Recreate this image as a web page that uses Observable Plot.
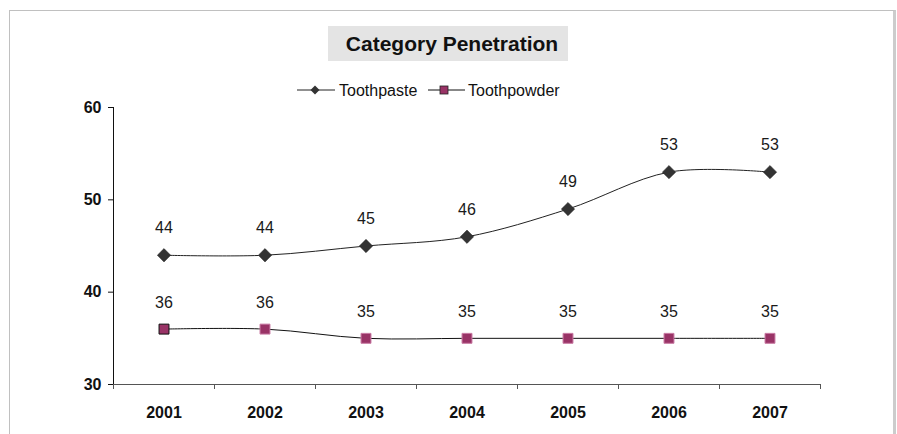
<!DOCTYPE html>
<html>
<head>
<meta charset="utf-8">
<script src="https://cdn.jsdelivr.net/npm/d3@7"></script>
<script src="https://cdn.jsdelivr.net/npm/@observablehq/plot@0.6"></script>
<style>
  html, body { margin: 0; padding: 0; background: #fff; }
  #wrap { position: relative; width: 897px; height: 434px; overflow: hidden; font-family: "Liberation Sans", Arial, sans-serif; }
  #frame { position: absolute; left: 9px; top: 10px; width: 887px; height: 440px; border: 1px solid #c0c0c0; border-right: 3px solid #cccccc; box-sizing: border-box; }
  #title { position: absolute; left: 328px; top: 26px; width: 240px; height: 35px; background: #e4e4e4; font-weight: bold; font-size: 21px; line-height: 35px; text-align: center; padding-left: 8px; box-sizing: border-box; color: #111; }
  #legend { position: absolute; left: 296px; top: 79px; height: 22px; }
  #chart { position: absolute; left: 0; top: 0; }
</style>
</head>
<body>
<div id="wrap">
  <div id="frame"></div>
  <div id="chart"></div>
  <div id="title">Category Penetration</div>
  <svg id="legend" width="300" height="22"></svg>
</div>
<script>
const years = ["2001", "2002", "2003", "2004", "2005", "2006", "2007"];
const toothpaste = [44, 44, 45, 46, 49, 53, 53];
const toothpowder = [36, 36, 35, 35, 35, 35, 35];
const yTicks = [30, 40, 50, 60];
const seriesNames = ["Toothpaste", "Toothpowder"];

const pasteData = years.map((y, i) => ({ i, year: y, v: toothpaste[i] }));
const powderData = years.map((y, i) => ({ i, year: y, v: toothpowder[i] }));
const bounds = d3.range(years.length + 1).map(i => i - 0.5);

const chart = Plot.plot({
  width: 897,
  height: 434,
  marginLeft: 113,
  marginRight: 77,
  marginTop: 107,
  marginBottom: 50,
  style: { fontFamily: "'Liberation Sans', Arial, sans-serif", fontSize: "16px", fontWeight: "bold", background: "transparent", color: "#111" },
  x: { type: "linear", domain: [-0.5, years.length - 0.5] },
  y: { domain: [30, 60] },
  marks: [
    Plot.axisY({ ticks: yTicks, tickSize: 5, tickPadding: 7, label: null, stroke: "#111" }),
    Plot.axisX({ ticks: bounds, tickSize: 5, tickFormat: () => "", label: null, stroke: "#555" }),
    Plot.axisX({ ticks: d3.range(years.length), tickSize: 0, tickPadding: 22, tickFormat: i => years[i], label: null }),
    Plot.ruleY([30], { stroke: "#555" }),
    Plot.ruleX([-0.5], { stroke: "#111" }),
    Plot.line(pasteData, { x: "i", y: "v", curve: "cardinal", stroke: "#222", strokeWidth: 1 }),
    Plot.line(powderData, { x: "i", y: "v", curve: "cardinal", stroke: "#111", strokeWidth: 1 }),
    Plot.dot(pasteData, { x: "i", y: "v", symbol: "diamond2", r: 6, fill: "#333333", stroke: "#222", strokeWidth: 0.5 }),
    Plot.dot(powderData, { x: "i", y: "v", symbol: "square", r: 5.6, fill: "#993366", stroke: (d) => d.i === 0 ? "#111" : "#c97aa3", strokeWidth: 1 }),
    Plot.text(pasteData, { x: "i", y: "v", text: d => String(d.v), dy: -27, fontWeight: "normal", fill: "#1a1a1a" }),
    Plot.text(powderData, { x: "i", y: "v", text: d => String(d.v), dy: -26, fontWeight: "normal", fill: "#1a1a1a" })
  ]
});
document.getElementById("chart").appendChild(chart);

// legend
const lg = d3.select("#legend");
const sym = [
  { name: seriesNames[0], x0: 1, x1: 39, cx: 19, tx: 43 },
  { name: seriesNames[1], x0: 132, x1: 169, cx: 148, tx: 172 }
];
lg.append("line").attr("x1", sym[0].x0).attr("x2", sym[0].x1).attr("y1", 11).attr("y2", 11).attr("stroke", "#222");
lg.append("path").attr("d", `M${sym[0].cx},6.5 L${sym[0].cx + 4.5},11 L${sym[0].cx},15.5 L${sym[0].cx - 4.5},11Z`).attr("fill", "#333");
lg.append("line").attr("x1", sym[1].x0).attr("x2", sym[1].x1).attr("y1", 11).attr("y2", 11).attr("stroke", "#111");
lg.append("rect").attr("x", sym[1].cx - 4).attr("y", 7).attr("width", 8).attr("height", 8).attr("fill", "#993366").attr("stroke", "#222").attr("stroke-width", 0.8);
sym.forEach(s => {
  lg.append("text").attr("x", s.tx).attr("y", 16.5).attr("font-size", 16).attr("font-family", "'Liberation Sans', Arial, sans-serif").attr("fill", "#111").text(s.name);
});
</script>
</body>
</html>
